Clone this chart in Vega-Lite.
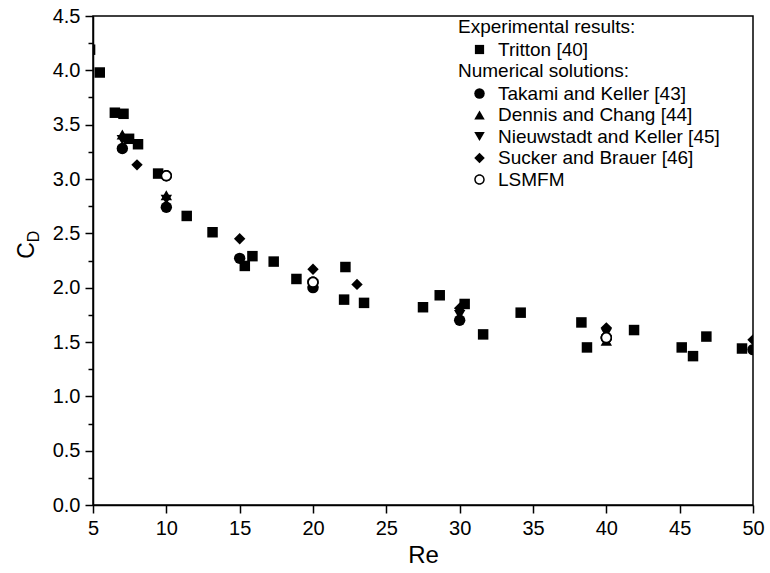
{
  "$schema": "https://vega.github.io/schema/vega-lite/v6.json",
  "width": 660,
  "height": 489,
  "autosize": "none",
  "padding": {"left": 93, "top": 16, "right": 17, "bottom": 68},
  "background": "white",
  "config": {
    "font": "Liberation Sans",
    "view": {"stroke": "black", "strokeWidth": 1.5},
    "axis": {
      "labelFont": "Liberation Sans",
      "titleFont": "Liberation Sans",
      "labelColor": "black",
      "titleColor": "black",
      "domainColor": "black",
      "tickColor": "black",
      "tickOpacity": 1,
      "domainWidth": 1.5,
      "tickWidth": 1.5,
      "grid": false,
      "titleFontWeight": "normal"
    },
    "legend": {
      "titleFont": "Liberation Sans",
      "labelFont": "Liberation Sans",
      "titleFontWeight": "normal",
      "titleFontSize": 19,
      "labelFontSize": 19,
      "titleColor": "black",
      "labelColor": "black",
      "labelLimit": 400,
      "titleLimit": 400,
      "padding": 0
    }
  },
  "datasets": {
    "tritton": [
      {"Re": 4.8, "CD": 4.19, "source": "Tritton [40]"},
      {"Re": 5.46, "CD": 3.98, "source": "Tritton [40]"},
      {"Re": 6.49, "CD": 3.61, "source": "Tritton [40]"},
      {"Re": 7.08, "CD": 3.6, "source": "Tritton [40]"},
      {"Re": 7.46, "CD": 3.37, "source": "Tritton [40]"},
      {"Re": 8.07, "CD": 3.32, "source": "Tritton [40]"},
      {"Re": 9.44, "CD": 3.05, "source": "Tritton [40]"},
      {"Re": 11.39, "CD": 2.66, "source": "Tritton [40]"},
      {"Re": 13.15, "CD": 2.51, "source": "Tritton [40]"},
      {"Re": 15.35, "CD": 2.2, "source": "Tritton [40]"},
      {"Re": 15.87, "CD": 2.29, "source": "Tritton [40]"},
      {"Re": 17.32, "CD": 2.24, "source": "Tritton [40]"},
      {"Re": 18.87, "CD": 2.08, "source": "Tritton [40]"},
      {"Re": 22.21, "CD": 2.19, "source": "Tritton [40]"},
      {"Re": 22.12, "CD": 1.89, "source": "Tritton [40]"},
      {"Re": 23.48, "CD": 1.86, "source": "Tritton [40]"},
      {"Re": 27.5, "CD": 1.82, "source": "Tritton [40]"},
      {"Re": 28.64, "CD": 1.93, "source": "Tritton [40]"},
      {"Re": 30.34, "CD": 1.85, "source": "Tritton [40]"},
      {"Re": 31.6, "CD": 1.57, "source": "Tritton [40]"},
      {"Re": 34.16, "CD": 1.77, "source": "Tritton [40]"},
      {"Re": 38.3, "CD": 1.68, "source": "Tritton [40]"},
      {"Re": 38.68, "CD": 1.45, "source": "Tritton [40]"},
      {"Re": 41.89, "CD": 1.61, "source": "Tritton [40]"},
      {"Re": 45.14, "CD": 1.45, "source": "Tritton [40]"},
      {"Re": 45.91, "CD": 1.37, "source": "Tritton [40]"},
      {"Re": 46.82, "CD": 1.55, "source": "Tritton [40]"},
      {"Re": 49.25, "CD": 1.44, "source": "Tritton [40]"}
    ],
    "numerical": [
      {"Re": 7, "CD": 3.36, "method": "Nieuwstadt and Keller [45]"},
      {"Re": 10, "CD": 2.81, "method": "Nieuwstadt and Keller [45]"},
      {"Re": 20, "CD": 2.03, "method": "Nieuwstadt and Keller [45]"},
      {"Re": 30, "CD": 1.75, "method": "Nieuwstadt and Keller [45]"},
      {"Re": 40, "CD": 1.58, "method": "Nieuwstadt and Keller [45]"},
      {"Re": 7, "CD": 3.28, "method": "Takami and Keller [43]"},
      {"Re": 10, "CD": 2.74, "method": "Takami and Keller [43]"},
      {"Re": 15, "CD": 2.27, "method": "Takami and Keller [43]"},
      {"Re": 20, "CD": 2.0, "method": "Takami and Keller [43]"},
      {"Re": 30, "CD": 1.7, "method": "Takami and Keller [43]"},
      {"Re": 40, "CD": 1.54, "method": "Takami and Keller [43]"},
      {"Re": 50, "CD": 1.43, "method": "Takami and Keller [43]"},
      {"Re": 7, "CD": 3.41, "method": "Dennis and Chang [44]"},
      {"Re": 10, "CD": 2.85, "method": "Dennis and Chang [44]"},
      {"Re": 20, "CD": 2.05, "method": "Dennis and Chang [44]"},
      {"Re": 40, "CD": 1.51, "method": "Dennis and Chang [44]"},
      {"Re": 8, "CD": 3.13, "method": "Sucker and Brauer [46]"},
      {"Re": 15, "CD": 2.45, "method": "Sucker and Brauer [46]"},
      {"Re": 20, "CD": 2.17, "method": "Sucker and Brauer [46]"},
      {"Re": 23, "CD": 2.03, "method": "Sucker and Brauer [46]"},
      {"Re": 30, "CD": 1.81, "method": "Sucker and Brauer [46]"},
      {"Re": 40, "CD": 1.63, "method": "Sucker and Brauer [46]"},
      {"Re": 50, "CD": 1.52, "method": "Sucker and Brauer [46]"},
      {"Re": 10, "CD": 3.03, "method": "LSMFM"},
      {"Re": 20, "CD": 2.05, "method": "LSMFM"},
      {"Re": 40, "CD": 1.54, "method": "LSMFM"}
    ]
  },
  "layer": [
    {
      "data": {"name": "tritton"},
      "mark": {"type": "point", "shape": "square", "filled": true, "opacity": 1, "size": 110, "clip": true},
      "encoding": {
        "x": {
          "field": "Re", "type": "quantitative",
          "scale": {"domain": [5, 50], "nice": false, "zero": false},
          "axis": {
            "values": [5, 7.5, 10, 12.5, 15, 17.5, 20, 22.5, 25, 27.5, 30, 32.5, 35, 37.5, 40, 42.5, 45, 47.5, 50],
            "labelExpr": "datum.value % 5 === 0 ? datum.label : ''",
            "ticks": true, "tickColor": "black", "tickWidth": 1.5,
            "tickSize": {"condition": {"test": "datum.value % 5 === 0", "value": 8}, "value": 5},
            "labelFontSize": 20, "labelPadding": 5,
            "labelFlush": false,
            "title": "Re", "titleFontSize": 24, "titlePadding": 5
          }
        },
        "y": {
          "field": "CD", "type": "quantitative",
          "scale": {"domain": [0, 4.5], "nice": false, "zero": false},
          "axis": {
            "values": [0, 0.25, 0.5, 0.75, 1, 1.25, 1.5, 1.75, 2, 2.25, 2.5, 2.75, 3, 3.25, 3.5, 3.75, 4, 4.25, 4.5],
            "format": ".1f",
            "labelExpr": "(datum.value * 2) % 1 === 0 ? datum.label : ''",
            "ticks": true, "tickColor": "black", "tickWidth": 1.5,
            "tickSize": {"condition": {"test": "(datum.value * 2) % 1 === 0", "value": 8}, "value": 5},
            "labelFontSize": 20, "labelPadding": 5,
            "labelFlush": false,
            "title": "C", "titleFontSize": 23,
            "titleAngle": -90, "titleX": -67, "titleY": 234,
            "titleAlign": "center", "titleBaseline": "middle"
          }
        },
        "color": {
          "field": "source", "type": "nominal",
          "scale": {"domain": ["Tritton [40]"], "range": ["black"]},
          "legend": {
            "title": "Experimental results:",
            "orient": "none", "legendX": 365, "legendY": 2,
            "symbolType": "square", "symbolSize": 85,
            "symbolOffset": 12, "labelOffset": 9, "titlePadding": 3
          }
        }
      }
    },
    {
      "data": {"name": "numerical"},
      "mark": {"type": "point", "filled": true, "color": "black", "opacity": 1, "size": 130, "clip": true},
      "encoding": {
        "x": {"field": "Re", "type": "quantitative"},
        "y": {
          "field": "CD", "type": "quantitative",
          "axis": {
            "orient": "left",
            "ticks": false, "labels": false, "domain": false, "grid": false,
            "title": "D", "titleFontSize": 16,
            "titleAngle": -90, "titleX": -60, "titleY": 220,
            "titleAlign": "center", "titleBaseline": "middle"
          }
        },
        "shape": {
          "field": "method", "type": "nominal",
          "scale": {
            "domain": ["Takami and Keller [43]", "Dennis and Chang [44]", "Nieuwstadt and Keller [45]", "Sucker and Brauer [46]", "LSMFM"],
            "range": ["circle", "triangle-up", "triangle-down", "diamond", "M-1,0A1,1 0 1,0 1,0A1,1 0 1,0 -1,0ZM-0.72,0A0.72,0.72 0 1,1 0.72,0A0.72,0.72 0 1,1 -0.72,0Z"]
          },
          "legend": {
            "title": "Numerical solutions:",
            "orient": "none", "legendX": 365, "legendY": 46,
            "symbolSize": 110, "symbolOffset": 12, "labelOffset": 9,
            "titlePadding": 3, "rowPadding": 1.5,
            "symbolFillColor": "black", "symbolStrokeWidth": 0
          }
        },
        "order": {"field": "method", "sort": "descending"}
      }
    },
    {
      "data": {"name": "numerical"},
      "transform": [{"filter": "datum.method === 'LSMFM'"}],
      "mark": {"type": "point", "shape": "circle", "filled": true, "color": "white", "opacity": 1, "size": 95, "clip": true},
      "encoding": {
        "x": {"field": "Re", "type": "quantitative"},
        "y": {"field": "CD", "type": "quantitative", "axis": null}
      }
    },
    {
      "data": {"name": "numerical"},
      "transform": [{"filter": "datum.method === 'LSMFM'"}],
      "mark": {"type": "point", "shape": "M-1,0A1,1 0 1,0 1,0A1,1 0 1,0 -1,0ZM-0.72,0A0.72,0.72 0 1,1 0.72,0A0.72,0.72 0 1,1 -0.72,0Z", "filled": true, "color": "black", "opacity": 1, "size": 130, "clip": true},
      "encoding": {
        "x": {"field": "Re", "type": "quantitative"},
        "y": {"field": "CD", "type": "quantitative", "axis": null}
      }
    }
  ],
  "resolve": {
    "axis": {"y": "independent"}
  }
}
